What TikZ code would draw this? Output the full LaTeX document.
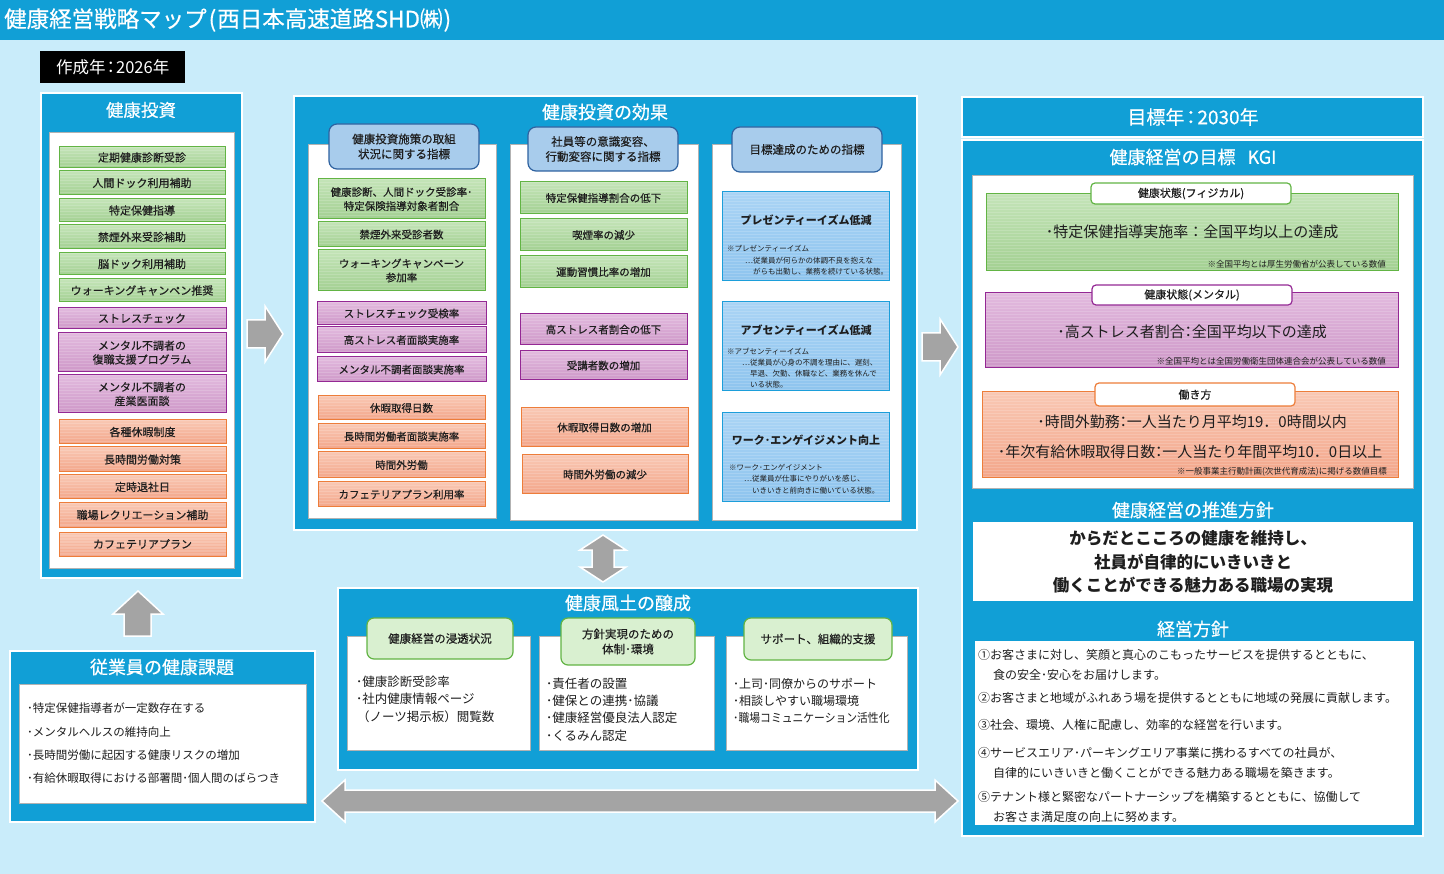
\documentclass[tikz,border=0pt]{standalone}
\usepackage{fontspec}
\setmainfont{Noto Sans CJK JP}
\newfontfamily\jpm{Noto Sans CJK JP}[FakeBold=0.45]
\usepackage{graphicx}
\definecolor{mainblue}{RGB}{17,159,214}
\definecolor{bglight}{RGB}{201,236,250}
\definecolor{txt}{RGB}{30,30,30}
\definecolor{gtop}{RGB}{196,228,184}
\definecolor{gbot}{RGB}{163,208,146}
\definecolor{gborder}{RGB}{98,180,68}
\definecolor{ptop}{RGB}{226,186,222}
\definecolor{pbot}{RGB}{206,152,200}
\definecolor{pborder}{RGB}{148,40,148}
\definecolor{otop}{RGB}{249,200,180}
\definecolor{obot}{RGB}{243,166,138}
\definecolor{oborder}{RGB}{237,125,58}
\definecolor{btop}{RGB}{170,212,245}
\definecolor{bbot}{RGB}{142,196,238}
\definecolor{bborder}{RGB}{28,158,218}
\definecolor{hfill}{RGB}{168,204,236}
\definecolor{hborder}{RGB}{46,98,160}
\definecolor{chfill}{RGB}{217,240,208}
\definecolor{agray}{RGB}{164,164,164}
\newcommand\fsz[2]{\fontsize{#1}{#2}\selectfont}
\newcommand\mfs[2]{\jpm\fontsize{#1}{#2}\selectfont}
\newcommand\ibox[7]{\node[#1, anchor=north west, minimum width={#5-#3}, minimum height={#6-#4}] (#2) at (#3,#4) {#7};}
\tikzset{
  panel/.style={fill=mainblue, draw=white, line width=1.5pt},
  wbox/.style={fill=white, draw=black!30, line width=0.8pt},
  base/.style={inner sep=1pt, outer sep=0pt, align=center, text=txt, font=\mfs{10.5}{14}},
  stripes/.style={path picture={\foreach \k in {0,...,45}{\fill[white,opacity=0.16] ([yshift=-\k*3pt]path picture bounding box.north west) rectangle ([yshift=-\k*3pt-1.5pt]path picture bounding box.north east);}}},
  gbox/.style={base, draw=gborder, line width=1pt, top color=gtop, bottom color=gbot, stripes},
  pbox/.style={base, draw=pborder, line width=1pt, top color=ptop, bottom color=pbot, stripes},
  obox/.style={base, draw=oborder, line width=1pt, top color=otop, bottom color=obot, stripes},
  bbox/.style={base, draw=bborder, line width=1pt, top color=btop, bottom color=bbot, stripes},
  hdr/.style={base, draw=hborder, fill=hfill, rounded corners=8pt, line width=1.2pt, font=\mfs{11.5}{15}},
  chdr/.style={base, draw=gborder, fill=chfill, rounded corners=7pt, line width=1.2pt, font=\mfs{11.5}{15}},
  tab/.style={base, fill=white, rounded corners=4pt, line width=1.2pt, font=\mfs{11}{13}},
  ttl/.style={text=white, inner sep=0pt, font=\mfs{18}{20}},
  c3t/.style={text=txt, inner sep=0pt, font=\fsz{11}{13}\bfseries},
  c3n/.style={text=txt, inner sep=0pt, anchor=west, font=\fsz{7.5}{9}},
  kgit/.style={text=txt, inner sep=0pt, font=\fsz{15}{18}},
  kgin/.style={text=txt, inner sep=0pt, anchor=east, font=\fsz{8.5}{10}},
  line/.style={text=txt, inner sep=0pt, anchor=west, font=\fsz{12}{14}},
  garrow/.style={fill=agray, draw=white, line width=1.5pt, line join=miter},
}
\begin{document}
\begin{tikzpicture}[x=1pt,y=-1pt]
\useasboundingbox (0,0) rectangle (1444,874);
\fill[bglight] (0,0) rectangle (1444,874);
\fill[mainblue] (0,0) rectangle (1444,40);
\node[anchor=west, text=white, inner sep=0pt, font=\mfs{22.5}{26}] (title) at (4,20) {健康経営戦略マップ\kern2pt(\kern1pt西日本高速道路SHD㈱\kern1pt)};
\node[fill=black, text=white, anchor=north west, minimum width=145, minimum height=32, inner sep=0pt, font=\fsz{16.5}{18}] (year) at (40,51) {作成年\kern-3pt：\kern-3pt2026年};

% ---------------- 健康投資
\draw[panel] (41,93) rectangle (242,578);
\node[ttl, font=\mfs{17.5}{20}] (invT) at (141,110) {健康投資};
\draw[wbox] (49,132) rectangle (234,568);
\ibox{gbox, font=\mfs{11}{14}}{i1}{59}{147}{225}{168}{定期健康診断受診}
\ibox{gbox, font=\mfs{11}{14}}{i2}{59}{171}{225}{195}{人間ドック利用補助}
\ibox{gbox, font=\mfs{11}{14}}{i3}{59}{199}{225}{222}{特定保健指導}
\ibox{gbox, font=\mfs{11}{14}}{i4}{59}{225}{225}{249}{禁煙外来受診補助}
\ibox{gbox, font=\mfs{11}{14}}{i5}{59}{253}{225}{275}{脳ドック利用補助}
\ibox{gbox, font=\mfs{11}{14}}{i6}{59}{279}{225}{302}{ウォーキングキャンペン推奨}
\ibox{pbox, font=\mfs{11}{14}}{i7}{58}{308}{226}{329}{ストレスチェック}
\ibox{pbox, font=\mfs{11}{14}}{i8}{58}{333}{226}{372}{メンタル不調者の\\復職支援プログラム}
\ibox{pbox, font=\mfs{11}{14}}{i9}{58}{375}{226}{413}{メンタル不調者の\\産業医面談}
\ibox{obox, font=\mfs{11}{14}}{i10}{59}{420}{226}{444}{各種休暇制度}
\ibox{obox, font=\mfs{11}{14}}{i11}{59}{447}{226}{472}{長時間労働対策}
\ibox{obox, font=\mfs{11}{14}}{i12}{59}{475}{226}{499}{定時退社日}
\ibox{obox, font=\mfs{11}{14}}{i13}{59}{503}{226}{527}{職場レクリエーション補助}
\ibox{obox, font=\mfs{11}{14}}{i14}{59}{532}{226}{556}{カフェテリアプラン}

% ---------------- 健康投資の効果
\draw[panel] (294,96) rectangle (917,530);
\node[ttl] (effT) at (605,112) {健康投資の効果};
\draw[wbox] (308,144) rectangle (496,518);
\draw[wbox] (510,144) rectangle (698,520);
\draw[wbox] (712,144) rectangle (901,520);
\ibox{hdr}{h1}{329}{124}{479}{169}{健康投資施策の取組\\状況に関する指標}
\ibox{hdr}{h2}{528}{127}{678}{171}{社員等の意識変容、\\行動変容に関する指標}
\ibox{hdr}{h3}{732}{127}{882}{172}{目標達成のための指標}

\ibox{gbox}{a1}{318}{179}{485}{219}{健康診断、人間ドック受診率･\\特定保険指導対象者割合}
\ibox{gbox}{a2}{318}{222}{485}{247}{禁煙外来受診者数}
\ibox{gbox}{a3}{318}{250}{485}{291}{ウォーキングキャンペーン\\参加率}
\ibox{pbox}{a4}{317}{302}{486}{325}{ストレスチェック受検率}
\ibox{pbox}{a5}{317}{327}{486}{353}{高ストレス者面談実施率}
\ibox{pbox}{a6}{317}{357}{486}{382}{メンタル不調者面談実施率}
\ibox{obox}{a7}{318}{396}{485}{420}{休暇取得日数}
\ibox{obox}{a8}{318}{424}{485}{449}{長時間労働者面談実施率}
\ibox{obox}{a9}{318}{452}{485}{478}{時間外労働}
\ibox{obox}{a10}{318}{482}{485}{507}{カフェテリアプラン利用率}

\ibox{gbox}{b1}{520}{182}{687}{214}{特定保健指導割合の低下}
\ibox{gbox}{b2}{520}{219}{687}{251}{喫煙率の減少}
\ibox{gbox}{b3}{520}{256}{687}{288}{運動習慣比率の増加}
\ibox{pbox}{b4}{520}{314}{687}{345}{高ストレス者割合の低下}
\ibox{pbox}{b5}{520}{351}{687}{380}{受講者数の増加}
\ibox{obox}{b6}{521}{408}{688}{447}{休暇取得日数の増加}
\ibox{obox}{b7}{522}{455}{688}{494}{時間外労働の減少}

\ibox{bbox}{c1}{722}{192}{889}{281}{}
\node[c3t] (c1t) at (806,220) {プレゼンティーイズム低減};
\node[c3n] (c1n1) at (727,249) {※プレゼンティーイズム};
\node[c3n] (c1n2) at (745,261) {…従業員が何らかの体調不良を抱えな};
\node[c3n] (c1n3) at (753,272) {がらも出勤し、業務を続けている状態。};
\ibox{bbox}{c2}{722}{302}{889}{391}{}
\node[c3t] (c2t) at (806,330) {アブセンティーイズム低減};
\node[c3n] (c2n1) at (727,352) {※アブセンティーイズム};
\node[c3n] (c2n2) at (742,363) {…従業員が心身の不調を理由に、遅刻、};
\node[c3n] (c2n3) at (750,374) {早退、欠勤、休職など、業務を休んで};
\node[c3n] (c2n4) at (750,385) {いる状態。};
\ibox{bbox}{c3}{722}{413}{889}{502}{}
\node[c3t] (c3t) at (806,440) {ワーク･エンゲイジメント向上};
\node[c3n] (c3n1) at (729,468) {※ワーク･エンゲイジメント};
\node[c3n] (c3n2) at (744,479) {…従業員が仕事にやりがいを感じ、};
\node[c3n] (c3n3) at (752,491) {いきいきと前向きに働いている状態。};

% ---------------- arrows
\draw[garrow] (247,320) -- (265,320) -- (265,306) -- (283,334) -- (265,362) -- (265,348) -- (247,348) -- cycle;
\draw[garrow] (922,333) -- (940,333) -- (940,319) -- (958,347) -- (940,375) -- (940,361) -- (922,361) -- cycle;
\draw[garrow] (124,636) -- (124,614) -- (113,614) -- (138,591) -- (163,614) -- (151,614) -- (151,636) -- cycle;
\draw[garrow] (603,535) -- (626,550) -- (614,550) -- (614,567) -- (626,567) -- (603,582) -- (580,567) -- (592,567) -- (592,550) -- (580,550) -- cycle;
\draw[garrow] (322,801) -- (345,780) -- (345,790) -- (935,790) -- (935,780) -- (958,801) -- (935,822) -- (935,812) -- (345,812) -- (345,822) -- cycle;

% ---------------- 目標年 / KGI
\draw[panel] (962,97) rectangle (1423,137);
\node[ttl, font=\mfs{19}{21}] (goalY) at (1193,117) {目標年\kern-3pt：\kern-3pt2030年};
\draw[panel] (962,140) rectangle (1423,836);
\node[ttl] (kgiT) at (1193,157) {健康経営の目標\hspace{12pt}KGI};
\draw[wbox] (972,175) rectangle (1413,488);
\ibox{gbox}{k1}{986}{194}{1398}{271}{}
\ibox{tab, draw=gborder}{k1tab}{1091}{183}{1291}{204}{健康状態(フィジカル)}
\node[kgit] (k1m) at (1192,232) {･特定保健指導実施率：全国平均以上の達成};
\node[kgin] (k1n) at (1386,264) {※全国平均とは厚生労働省が公表している数値};
\ibox{pbox}{k2}{985}{293}{1398}{368}{}
\ibox{tab, draw=pborder}{k2tab}{1092}{285}{1292}{305}{健康状態(メンタル)}
\node[kgit] (k2m) at (1192,332) {･高ストレス者割合\kern-4pt：\kern-4pt全国平均以下の達成};
\node[kgin] (k2n) at (1386,361) {※全国平均とは全国労働衛生団体連合会が公表している数値};
\ibox{obox}{k3}{982}{392}{1398}{478}{}
\ibox{tab, draw=oborder}{k3tab}{1095}{383}{1295}{406}{働き方}
\node[kgit] (k3m1) at (1192,422) {･時間外勤務\kern-4pt：\kern-4pt一人当たり月平均19．0時間以内};
\node[kgit] (k3m2) at (1190,452) {･年次有給休暇取得日数\kern-4pt：\kern-4pt一人当たり年間平均10．0日以上};
\node[kgin] (k3n) at (1387,472) {※一般事業主行動計画(次世代育成法)に掲げる数値目標};

% ---------------- 推進方針
\node[ttl] (promT) at (1193,510) {健康経営の推進方針};
\draw[wbox, draw=none] (973,522) rectangle (1413,601);
\node[text=txt, inner sep=0pt, align=center, font=\fsz{16.5}{23.5}\bfseries] (slogan) at (1193,562) {からだとこころの健康を維持し、\\社員が自律的にいきいきと\\働くことができる魅力ある職場の実現};
\node[ttl] (polT) at (1193,629) {経営方針};
\draw[wbox, draw=none] (975,641) rectangle (1414,825);
\node[line] (p1) at (978,655) {①お客さまに対し、笑顔と真心のこもったサービスを提供するとともに、};
\node[line] (p1b) at (993,675) {食の安全･安心をお届けします。};
\node[line] (p2) at (978,698) {②お客さまと地域がふれあう場を提供するとともに地域の発展に貢献します。};
\node[line] (p3) at (978,725) {③社会、環境、人権に配慮し、効率的な経営を行います。};
\node[line] (p4) at (978,753) {④サービスエリア･パーキングエリア事業に携わるすべての社員が、};
\node[line] (p4b) at (993,773) {自律的にいきいきと働くことができる魅力ある職場を築きます。};
\node[line] (p5) at (978,797) {⑤テナント様と緊密なパートナーシップを構築するとともに、協働して};
\node[line] (p5b) at (993,817) {お客さま満足度の向上に努めます。};

% ---------------- 従業員の健康課題
\draw[panel] (10,651) rectangle (315,822);
\node[ttl] (issT) at (162,667) {従業員の健康課題};
\draw[wbox] (19,684) rectangle (306,803);
\node[line, font=\fsz{11.5}{14}] (s1) at (27,708) {･特定保健指導者が一定数存在する};
\node[line, font=\fsz{11.5}{14}] (s2) at (27,732) {･メンタルヘルスの維持向上};
\node[line, font=\fsz{11.5}{14}] (s3) at (27,755) {･長時間労働に起因する健康リスクの増加};
\node[line, font=\fsz{11.5}{14}] (s4) at (27,778) {･有給休暇取得における部署間･個人間のばらつき};

% ---------------- 健康風土の醸成
\draw[panel] (338,588) rectangle (918,770);
\node[ttl] (cultT) at (628,603) {健康風土の醸成};
\draw[wbox] (347,636) rectangle (530,750);
\draw[wbox] (539,636) rectangle (714,750);
\draw[wbox] (726,636) rectangle (907,750);
\ibox{chdr}{q1}{367}{618}{513}{659}{健康経営の浸透状況}
\ibox{chdr}{q2}{561}{618}{695}{665}{方針実現のための\\体制･環境}
\ibox{chdr}{q3}{744}{618}{892}{660}{サポート、組織的支援}
\node[line, font=\fsz{12.5}{14}] (u1) at (356,682) {･健康診断受診率};
\node[line, font=\fsz{12.5}{14}] (u2) at (356,699) {･社内健康情報ページ};
\node[line, font=\fsz{12.5}{14}] (u3) at (357,717) {（ノーツ掲示板）閲覧数};
\node[line, font=\fsz{12.5}{14}] (v1) at (546,684) {･責任者の設置};
\node[line, font=\fsz{12.5}{14}] (v2) at (546,701) {･健保との連携･協議};
\node[line, font=\fsz{12.5}{14}] (v3) at (546,718) {･健康経営優良法人認定};
\node[line, font=\fsz{12.5}{14}] (v4) at (546,736) {･くるみん認定};
\node[line] (w1) at (733,684) {･上司･同僚からのサポート};
\node[line] (w2) at (733,701) {･相談しやすい職場環境};
\node[line] (w3) at (733,718) {\scalebox{0.9}[1]{･職場コミュニケーション活性化}};
\end{tikzpicture}
\end{document}
